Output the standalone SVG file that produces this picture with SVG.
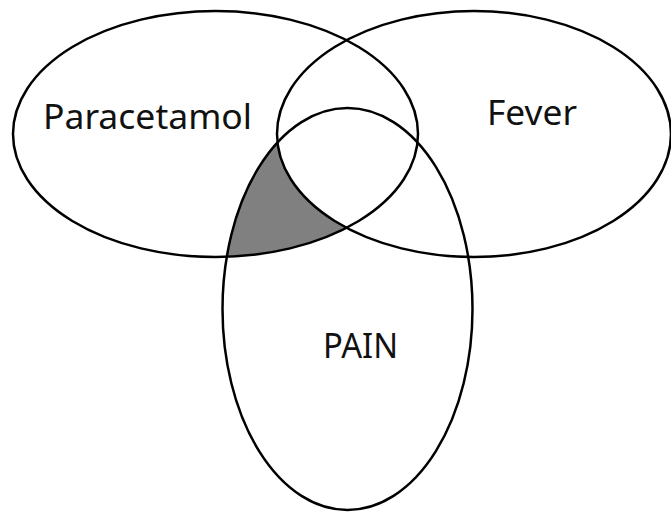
<svg xmlns="http://www.w3.org/2000/svg" width="671" height="514" viewBox="0 0 671 514">
<style>
.set{fill:none;stroke:#000;stroke-width:2.5}
.lbl{font-family:"Noto Sans","Open Sans","Liberation Sans",sans-serif;font-size:35px;fill:#111}
</style>
<defs>
<mask id="shadeMask" maskUnits="userSpaceOnUse" x="0" y="0" width="671" height="514">
<ellipse cx="347.5" cy="309" rx="125" ry="201" fill="#fff"/>
<ellipse cx="474" cy="134" rx="197" ry="123" fill="#000"/>
</mask>
</defs>
<rect width="671" height="514" fill="#fff"/>
<ellipse id="shaded-region" cx="215.5" cy="134" rx="202.5" ry="123" fill="#808080" mask="url(#shadeMask)"/>
<g id="paracetamol">
<ellipse class="set" cx="215.5" cy="134" rx="202.5" ry="123"/>
<text class="lbl" x="43" y="129" textLength="209" lengthAdjust="spacingAndGlyphs">Paracetamol</text>
</g>
<g id="fever">
<ellipse class="set" cx="474" cy="134" rx="197" ry="123"/>
<text class="lbl" x="487" y="125" textLength="90" lengthAdjust="spacingAndGlyphs">Fever</text>
</g>
<g id="pain">
<ellipse class="set" cx="347.5" cy="309" rx="125" ry="201"/>
<text class="lbl" x="323" y="358" textLength="75" lengthAdjust="spacingAndGlyphs">PAIN</text>
</g>
<g id="connectors"></g>
</svg>
